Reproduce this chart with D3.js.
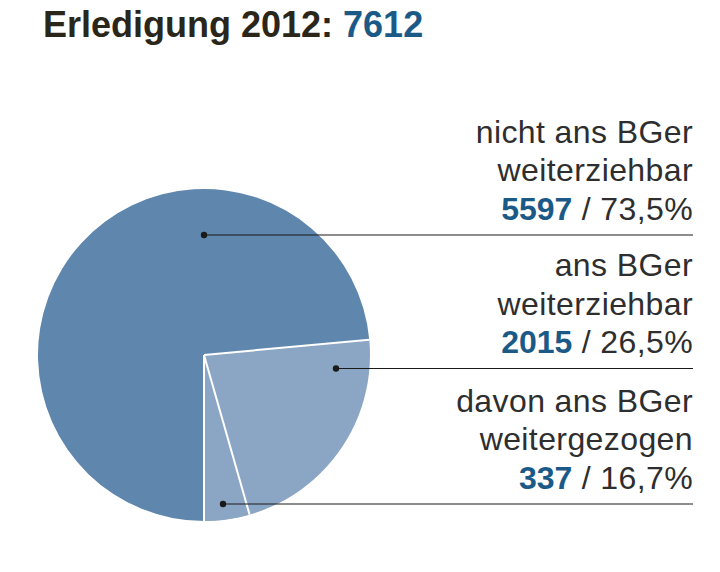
<!DOCTYPE html>
<html><head><meta charset="utf-8">
<script src="https://cdn.jsdelivr.net/npm/d3@7"></script>
<style>
body{margin:0;background:#fff;}
svg text{font-family:"Liberation Sans",Arial,sans-serif;}
</style></head>
<body><svg id="chart" width="720" height="572"></svg>
<script>
const titleText = "Erledigung 2012: ";
const total = 7612;
const categories = ["nicht ans BGer weiterziehbar", "ans BGer weiterziehbar"];
const values = [5597, 2015];
const percents = ["73,5%", "26,5%"];
const subCategory = "davon ans BGer weitergezogen";
const subValue = 337;
const subPercent = "16,7%";
const labelLines = [["nicht ans BGer", "weiterziehbar"], ["ans BGer", "weiterziehbar"], ["davon ans BGer", "weitergezogen"]];

const svg = d3.select("#chart");
const cx = 204, cy = 355, R = 166;
const colors = ["#5f86ad", "#8ba6c4"];

// title
const t = svg.append("text").attr("x", 43).attr("y", 37)
  .attr("font-size", 36).attr("font-weight", "bold");
t.append("tspan").attr("fill", "#2a2619").text(titleText);
t.append("tspan").attr("fill", "#1b5a87").text(total);

const g = svg.append("g").attr("transform", `translate(${cx},${cy})`);
// pie starting at bottom (pi), clockwise
const pie = d3.pie().sort(null).startAngle(Math.PI).endAngle(3 * Math.PI);
const arcs = pie(values);
const arc = d3.arc().innerRadius(0).outerRadius(R);
g.selectAll("path.slice").data(arcs).join("path").attr("class", "slice")
  .attr("d", arc).attr("fill", (d, i) => colors[i]);

// sub slice within second slice, ending at bottom
const a2 = arcs[1];
const subAngle = subValue / d3.sum(values) * 2 * Math.PI;
const subArc = { startAngle: a2.endAngle - subAngle, endAngle: a2.endAngle };
g.append("path").attr("d", arc(subArc)).attr("fill", colors[1]);

// white separators
const sepAngles = [a2.startAngle, subArc.startAngle, a2.endAngle];
sepAngles.forEach(a => {
  g.append("line").attr("x1", 0).attr("y1", 0)
    .attr("x2", R * Math.sin(a)).attr("y2", -R * Math.cos(a))
    .attr("stroke", "#fff").attr("stroke-width", 2);
});

// labels
const rightX = 693;
const leaderY = [235, 368.5, 504];
const lineH = 38.3;
const nums = [values[0], values[1], subValue];
const pcts = [percents[0], percents[1], subPercent];
const blockTop = leaderY.map(y => y - 15.5 - 2 * lineH);
// dots: points inside the slices at the leader heights
const dotX = [cx, cx + 132, cx + 19];

blockTop.forEach((by, i) => {
  labelLines[i].forEach((ln, j) => {
    svg.append("text").attr("x", rightX).attr("y", by + j * lineH)
      .attr("text-anchor", "end").attr("font-size", 32).attr("letter-spacing", 0.4)
      .attr("fill", "#2e2e2e").text(ln);
  });
  const tx = svg.append("text").attr("x", rightX).attr("y", by + 2 * lineH)
    .attr("text-anchor", "end").attr("font-size", 32).attr("fill", "#2e2e2e");
  tx.append("tspan").attr("font-weight", "bold").attr("fill", "#1b5a87").text(nums[i]);
  tx.append("tspan").attr("letter-spacing", 0.4).text(" / " + pcts[i]);
  svg.append("line").attr("x1", dotX[i]).attr("x2", rightX)
    .attr("y1", leaderY[i]).attr("y2", leaderY[i]).attr("stroke", "#1a1a1a").attr("stroke-width", 1);
  svg.append("circle").attr("cx", dotX[i]).attr("cy", leaderY[i]).attr("r", 3.2).attr("fill", "#1a1a1a");
});
</script></body></html>
